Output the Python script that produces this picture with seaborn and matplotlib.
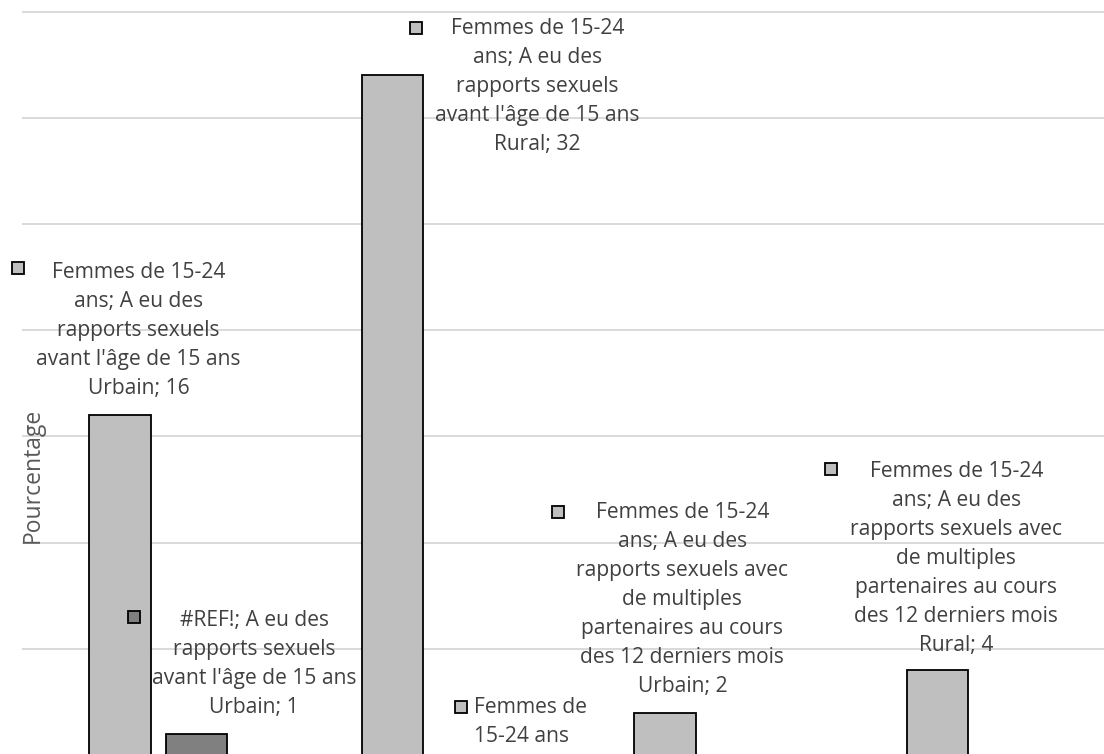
import matplotlib
matplotlib.use("Agg")
import matplotlib.pyplot as plt
import matplotlib.transforms as mtransforms
import pandas as pd
import seaborn as sns

# Indicators and area breakdown
indicators = [
    "A eu des rapports sexuels avant l'âge de 15 ans",
    "A eu des rapports sexuels avant l'âge de 15 ans",
    "A eu des rapports sexuels avec de multiples partenaires au cours des 12 derniers mois",
    "A eu des rapports sexuels avec de multiples partenaires au cours des 12 derniers mois",
]
areas = ["Urbain", "Rural", "Urbain", "Rural"]
series_names = ["Femmes de 15-24 ans", "#REF!"]
femmes_values = [16, 32, 2, 4]
ref_values = [1, 0, 0, 0]
bar_colors = ["#bfbfbf", "#808080"]
y_label = "Pourcentage"

categories = [f"{ind} {a}" for ind, a in zip(indicators, areas)]
df = pd.DataFrame({
    "categorie": categories * 2,
    "serie": [series_names[0]] * 4 + [series_names[1]] * 4,
    "valeur": femmes_values + ref_values,
})

sns.set_theme(style="white")
plt.rcParams["font.family"] = ["Open Sans", "DejaVu Sans"]

W, H, DPI = 1104, 754, 100
fig = plt.figure(figsize=(W / DPI, H / DPI), dpi=DPI)
# plot area runs a little past the right and bottom edges of the canvas
ax = fig.add_axes([22 / W, -1 / H, 1090 / W, 755 / H])

sns.barplot(data=df, x="categorie", y="valeur", hue="serie",
            order=categories, hue_order=series_names,
            palette=bar_colors, width=0.564, gap=0.2,
            edgecolor="black", linewidth=1.3, ax=ax, legend=False,
            zorder=3)

ax.set_xlim(-0.5, 3.5)
ax.set_ylim(0, 35.55)
ax.set_yticks(range(0, 40, 5))
ax.yaxis.grid(True, color="#d9d9d9", linewidth=1.4, zorder=0)
ax.xaxis.grid(False)
ax.set_axisbelow(True)
for s in ax.spines.values():
    s.set_visible(False)
ax.set_xticklabels([])
ax.set_yticklabels([])
ax.tick_params(length=0)
ax.set_xlabel("")
ax.set_ylabel("")

fig.text(33 / W, 1 - 475 / H, y_label, rotation=90, ha="center", va="center",
         fontsize=16.5, color="#595959")

TXT = "#404040"
FS = 15.1


def wrap(text, counts):
    words = text.split(" ")
    lines, i = [], 0
    for c in counts:
        lines.append(" ".join(words[i:i + c]))
        i += c
    if i < len(words):
        lines[-1] += " " + " ".join(words[i:])
    return "\n".join(lines)


def label(series_idx, cat_idx, counts, text_off, marker_off, ha="center",
          text=None, marker_series=None):
    bar = ax.containers[series_idx][cat_idx]
    value = [femmes_values, ref_values][series_idx][cat_idx]
    xc = bar.get_x() + bar.get_width() / 2
    yt = bar.get_height()
    if text is None:
        text = wrap(f"{series_names[series_idx]}; {categories[cat_idx]}; {value:g}",
                    counts)
    if marker_series is None:
        marker_series = series_idx
    tr = mtransforms.offset_copy(ax.transData, fig=fig, x=text_off[0],
                                 y=text_off[1], units="dots")
    ax.text(xc, yt, text, transform=tr, ha=ha, va="center",
            multialignment=ha, fontsize=FS, color=TXT, linespacing=1.5,
            zorder=5)
    mtr = mtransforms.offset_copy(ax.transData, fig=fig, x=marker_off[0],
                                  y=marker_off[1], units="dots")
    ax.plot([xc], [yt], marker="s", markersize=9.3,
            markerfacecolor=bar_colors[marker_series], markeredgecolor="black",
            markeredgewidth=1.3, linestyle="none", transform=mtr,
            clip_on=False, zorder=5)


label(0, 0, [3, 4, 2, 5, 2], (18.5, 85), (-101.5, 147))
label(1, 0, [4, 2, 5, 2], (57.5, 70), (-63, 117))
label(0, 1, [3, 4, 2, 5, 2], (145, -11.5), (24, 47))
label(1, 1, [], (5, 33), (-8, 48), ha="left", text="Femmes de\n15-24 ans",
      marker_series=0)
label(0, 2, [3, 4, 3, 2, 3, 4, 2], (17.5, 113), (-106.5, 201))
label(0, 3, [3, 4, 3, 2, 3, 4, 2], (19, 111.5), (-106, 201))

fig.savefig("out.png", dpi=DPI)
